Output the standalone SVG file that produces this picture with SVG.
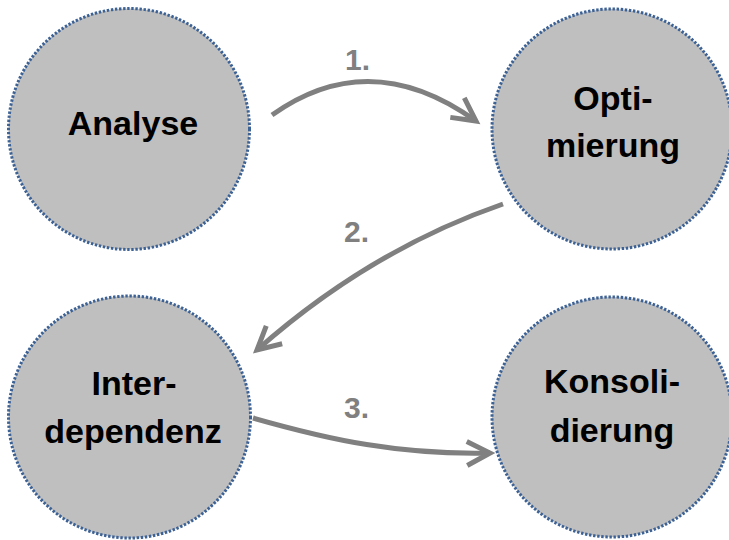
<svg xmlns="http://www.w3.org/2000/svg" width="729" height="540" viewBox="0 0 729 540">
<style>
.node circle{fill:#bfbfbf;stroke:#3c6194;stroke-width:3;stroke-dasharray:2.4 1.7}
.node text{font-family:"Liberation Sans",Arial,sans-serif;font-weight:bold;font-size:34px;fill:#000;text-anchor:middle}
.conn path{fill:none;stroke:#808080;stroke-width:5}
.lbl{font-family:"Liberation Sans",Arial,sans-serif;font-weight:bold;font-size:30px;fill:#808080}
</style>
<defs>
<marker id="arr" markerUnits="userSpaceOnUse" viewBox="-30 -16 36 32" markerWidth="36" markerHeight="32" refX="0" refY="0" orient="auto" overflow="visible">
<path d="M-23,-12 L0,0 L-23,12" fill="none" stroke="#808080" stroke-width="5" stroke-linejoin="miter"/>
</marker>
</defs>
<rect width="729" height="540" fill="#fff"/>
<g id="analyse" class="node"><circle cx="129" cy="129" r="120.5"/><text x="133" y="135">Analyse</text></g>
<g id="optimierung" class="node"><circle cx="612" cy="129" r="120"/><text x="613" y="110">Opti-</text><text x="613" y="157">mierung</text></g>
<g id="interdependenz" class="node"><circle cx="129.5" cy="417" r="121"/><text x="134" y="395">Inter-</text><text x="133" y="443">dependenz</text></g>
<g id="konsolidierung" class="node"><circle cx="612" cy="417" r="120"/><text x="612" y="393">Konsoli-</text><text x="612" y="442">dierung</text></g>
<g id="connectors" class="conn">
<path d="M272,115 Q370,45 476,121" marker-end="url(#arr)"/>
<path d="M503,204 Q370,250 257,350" marker-end="url(#arr)"/>
<path d="M253,418 C330,440 400,455 490,453" marker-end="url(#arr)"/>
<text class="lbl" x="345" y="70">1.</text>
<text class="lbl" x="344" y="242">2.</text>
<text class="lbl" x="344" y="418">3.</text>
</g>
</svg>
